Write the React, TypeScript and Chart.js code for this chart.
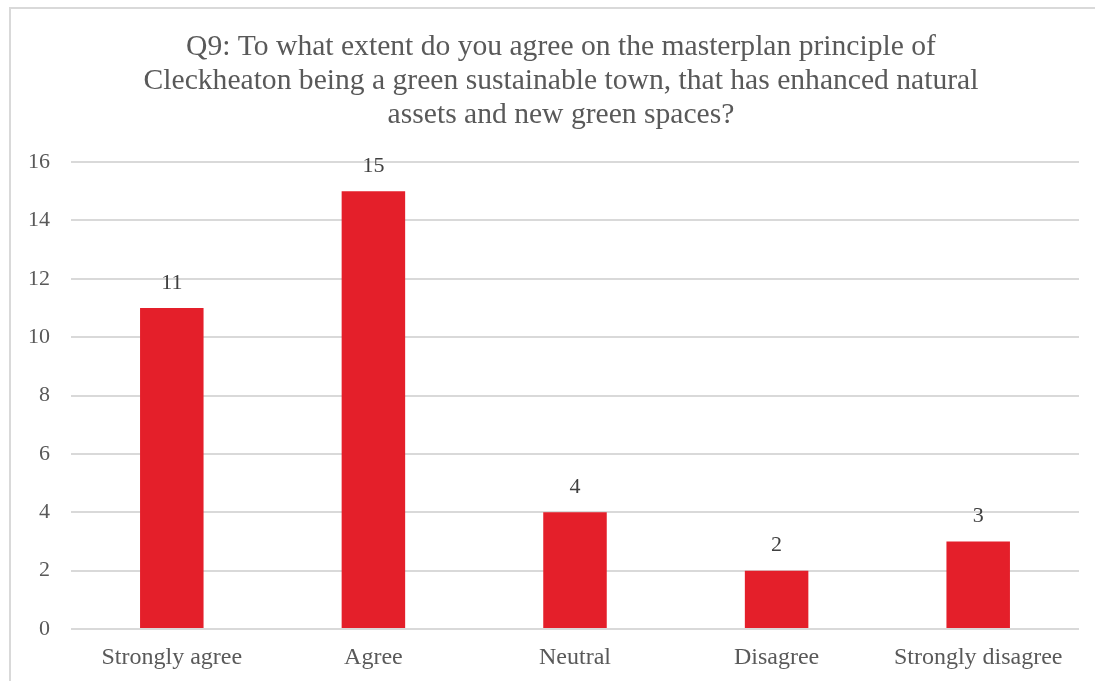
import React, { useEffect, useRef } from "react";
import { Chart, registerables } from "chart.js";

Chart.register(...registerables);

const categories = ["Strongly agree", "Agree", "Neutral", "Disagree", "Strongly disagree"];
const responses = [11, 15, 4, 2, 3];
const titleLines = [
  "Q9: To what extent do you agree on the masterplan principle of",
  "Cleckheaton being a green sustainable town, that has enhanced natural",
  "assets and new green spaces?",
];
const yMin = 0;
const yMax = 16;
const yStep = 2;

const FONT = "'Liberation Serif', 'Times New Roman', serif";

export default function App() {
  const ref = useRef<HTMLCanvasElement | null>(null);

  useEffect(() => {
    document.body.style.margin = "0";
    document.body.style.overflow = "hidden";
    if (!ref.current) return;

    const framePlugin = {
      id: "frame",
      beforeDraw(chart: any) {
        const ctx = chart.ctx;
        ctx.save();
        ctx.fillStyle = "#ffffff";
        ctx.fillRect(0, 0, chart.width, chart.height);
        ctx.strokeStyle = "#d9d9d9";
        ctx.lineWidth = 2;
        ctx.strokeRect(10, 8, chart.width + 20, chart.height + 20);
        ctx.restore();
      },
    };

    const titlePlugin = {
      id: "frameTitle",
      afterDraw(chart: any) {
        const ctx = chart.ctx;
        ctx.save();
        ctx.font = `29.6px ${FONT}`;
        ctx.fillStyle = "#595959";
        ctx.textAlign = "center";
        ctx.textBaseline = "middle";
        // the frame's centre lies right of the canvas centre (frame runs past the right edge)
        const cx = chart.width / 2 + 13.5;
        titleLines.forEach((line, i) => {
          ctx.fillText(line, cx, 47 + i * 34);
        });
        ctx.restore();
      },
    };

    const labelPlugin = {
      id: "valueLabels",
      afterDatasetsDraw(chart: any) {
        const ctx = chart.ctx;
        const meta = chart.getDatasetMeta(0);
        ctx.save();
        ctx.font = `22px ${FONT}`;
        ctx.fillStyle = "#404040";
        ctx.textAlign = "center";
        ctx.textBaseline = "middle";
        meta.data.forEach((bar: any, i: number) => {
          ctx.fillText(String(responses[i]), bar.x, bar.y - 25);
        });
        ctx.restore();
      },
    };

    const chart = new Chart(ref.current, {
      type: "bar",
      data: {
        labels: categories,
        datasets: [
          {
            data: responses,
            backgroundColor: "#e41f2a",
            borderWidth: 0,
            categoryPercentage: 1,
            barPercentage: 0.315,
          },
        ],
      },
      options: {
        animation: false,
        responsive: false,
        maintainAspectRatio: false,
        layout: { padding: { left: 0, right: 16, top: 162, bottom: 0 } },
        plugins: {
          legend: { display: false },
          tooltip: { enabled: false },
          title: { display: false },
        },
        scales: {
          x: {
            grid: { display: false, drawTicks: false },
            border: { display: false },
            ticks: {
              color: "#595959",
              font: { family: FONT, size: 24, lineHeight: 1.2 },
              padding: 14,
              maxRotation: 0,
              autoSkip: false,
            },
            afterFit(scale: any) {
              scale.height = 52;
            },
          },
          y: {
            min: yMin,
            max: yMax,
            grid: { color: "#d9d9d9", lineWidth: 2, drawTicks: false },
            border: { display: false },
            ticks: {
              stepSize: yStep,
              color: "#595959",
              font: { family: FONT, size: 22 },
              padding: 21,
            },
            afterFit(scale: any) {
              scale.width = 71;
            },
          },
        },
      },
      plugins: [framePlugin, titlePlugin, labelPlugin],
    });

    return () => chart.destroy();
  }, []);

  return (
    <div style={{ width: 1095, height: 681, position: "relative" }}>
      <canvas ref={ref} width={1095} height={681} style={{ display: "block" }} />
    </div>
  );
}
